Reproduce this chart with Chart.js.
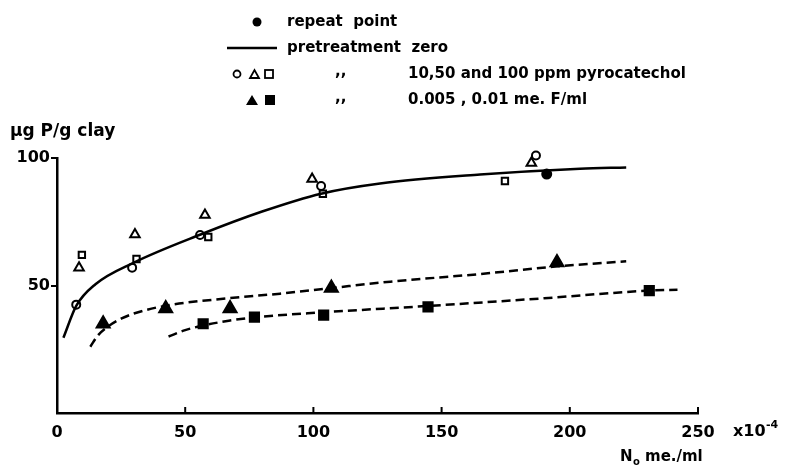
<!DOCTYPE html>
<html>
<head>
<meta charset="utf-8">
<script src="https://cdn.jsdelivr.net/npm/chart.js@4.4.1/dist/chart.umd.min.js"></script>
<style>
  html, body { margin: 0; padding: 0; background: #fff; }
  #wrap { width: 795px; height: 468px; }
</style>
</head>
<body>
<div id="wrap"><canvas id="myChart" width="795" height="468"></canvas></div>
<script>
// x in units of 1e-4 me./ml, y in ug P/g clay
const xTicks = [0, 50, 100, 150, 200, 250];
const yTicks = [50, 100];

// open markers: 10, 50 and 100 ppm pyrocatechol
const ppm10 = [[7.5, 42.5], [29.3, 57], [55.8, 69.8], [103, 89], [186.8, 101]];
const ppm50 = [[8.6, 57], [30.4, 70], [57.7, 77.6], [99.5, 91.8], [185, 98]];
const ppm100 = [[9.7, 62], [31, 60.4], [59, 69], [103.7, 86], [174.7, 91]];
// filled markers: 0.005 and 0.01 me. F/ml
const fluor005 = [[18, 35], [42.4, 41], [67.5, 41], [107, 49], [195, 59]];
const fluor01 = [[57, 35], [77, 37.6], [104, 38.4], [144.7, 41.6], [231, 48]];
const repeatPoint = [[191, 93.7]];

// fitted curves
const curveZero = [[2.5, 29.5], [7.5, 42], [15, 50.5], [30, 59], [56, 70], [80, 79], [103, 86], [126, 90], [165, 93.5], [204, 95.8], [222, 96.3]];
const curve005 = [[13, 26], [16, 30.5], [20, 34], [25, 37], [30, 39], [42, 42], [67, 45], [87, 46.8], [107, 49], [130, 51.5], [165, 54.5], [195, 57.5], [222, 59.5]];
const curve01 = [[43.5, 30], [50, 32.5], [57, 34.3], [67, 36.2], [77, 37.5], [104, 39.5], [145, 42], [190, 45], [231, 48], [242, 48.3]];

const FONT = '"DejaVu Sans", sans-serif';
const pts = arr => arr.map(p => ({ x: p[0], y: p[1] }));

function marker(data, style, radius, filled) {
    return {
        type: 'scatter',
        data: pts(data),
        pointStyle: style,
        pointRadius: radius,
        pointBorderWidth: 2,
        pointBorderColor: '#000',
        pointBackgroundColor: filled ? '#000' : '#fff',
        clip: false
    };
}

function curve(data, dash) {
    return {
        type: 'line',
        data: pts(data),
        borderColor: '#000',
        borderWidth: 2.5,
        borderDash: dash,
        pointRadius: 0,
        cubicInterpolationMode: 'monotone',
        fill: false
    };
}

const extras = {
    id: 'extras',
    afterDraw(chart) {
        const ctx = chart.ctx;
        const xs = chart.scales.x;
        const area = chart.chartArea;
        ctx.save();
        ctx.fillStyle = '#000';
        ctx.strokeStyle = '#000';

        // inner x ticks
        ctx.lineWidth = 2;
        xTicks.forEach(v => {
            if (v === 0) return;
            const px = xs.getPixelForValue(v);
            ctx.beginPath();
            ctx.moveTo(px, area.bottom);
            ctx.lineTo(px, area.bottom - 6);
            ctx.stroke();
        });

        ctx.textBaseline = 'middle';
        ctx.font = 'bold 17px ' + FONT;
        ctx.fillText('\u00b5g P/g clay', 10, 132);

        ctx.font = 'bold 16px ' + FONT;
        ctx.fillText('x10', 733, 432);
        ctx.font = 'bold 11px ' + FONT;
        ctx.fillText('-4', 766, 425);
        ctx.font = 'bold 15px ' + FONT;
        ctx.fillText('N', 620, 457);
        ctx.font = 'bold 10px ' + FONT;
        ctx.fillText('o', 633, 462);
        ctx.font = 'bold 15px ' + FONT;
        ctx.fillText('me./ml', 645, 457);

        // legend
        ctx.font = 'bold 15px ' + FONT;
        ctx.beginPath();
        ctx.arc(257, 22, 4.5, 0, Math.PI * 2);
        ctx.fill();
        ctx.fillText('repeat  point', 287, 22);

        ctx.lineWidth = 2.5;
        ctx.beginPath();
        ctx.moveTo(227, 48);
        ctx.lineTo(277, 48);
        ctx.stroke();
        ctx.fillText('pretreatment  zero', 287, 48);

        ctx.lineWidth = 1.8;
        ctx.beginPath();
        ctx.arc(237, 74, 3.5, 0, Math.PI * 2);
        ctx.stroke();
        ctx.beginPath();
        ctx.moveTo(250, 78); ctx.lineTo(259, 78); ctx.lineTo(254.5, 70); ctx.closePath();
        ctx.stroke();
        ctx.strokeRect(265, 70, 8, 8);
        ctx.fillText(',,', 335, 72);
        ctx.fillText('10,50 and 100 ppm pyrocatechol', 408, 74);

        ctx.beginPath();
        ctx.moveTo(246, 105); ctx.lineTo(258, 105); ctx.lineTo(252, 95); ctx.closePath();
        ctx.fill();
        ctx.fillRect(265, 95, 10, 10);
        ctx.fillText(',,', 335, 98);
        ctx.fillText('0.005 , 0.01 me. F/ml', 408, 100);
        ctx.restore();
    }
};

const config = {
    data: {
        datasets: [
            curve(curveZero, []),
            curve(curve005, [9, 5]),
            curve(curve01, [9, 5]),
            marker(ppm10, 'circle', 4, false),
            marker(ppm50, 'triangle', 5.5, false),
            marker(ppm100, 'rect', 4.5, false),
            marker(fluor005, 'triangle', 7.5, true),
            marker(fluor01, 'rect', 6.5, true),
            marker(repeatPoint, 'circle', 4.5, true)
        ]
    },
    options: {
        responsive: false,
        animation: false,
        devicePixelRatio: 1,
        layout: { padding: { left: 0, top: 158, right: 97, bottom: 0 } },
        plugins: { legend: { display: false }, tooltip: { enabled: false } },
        scales: {
            x: {
                type: 'linear',
                min: 0,
                max: 250,
                afterBuildTicks: s => { s.ticks = xTicks.map(v => ({ value: v })); },
                afterFit: s => { s.height = 55; },
                grid: { display: false, drawTicks: false },
                border: { color: '#000', width: 2.5 },
                ticks: { color: '#000', padding: 10, font: { family: FONT, size: 16, weight: 'bold' } }
            },
            y: {
                type: 'linear',
                min: 0,
                max: 100,
                afterBuildTicks: s => { s.ticks = yTicks.map(v => ({ value: v })); },
                afterFit: s => { s.width = 57; },
                grid: { drawOnChartArea: false, drawTicks: true, tickLength: 6, color: '#000', lineWidth: 2 },
                border: { color: '#000', width: 2.5 },
                ticks: { color: '#000', padding: 1, font: { family: FONT, size: 16, weight: 'bold' } }
            }
        }
    },
    plugins: [extras]
};

new Chart(document.getElementById('myChart'), config);
</script>
</body>
</html>
